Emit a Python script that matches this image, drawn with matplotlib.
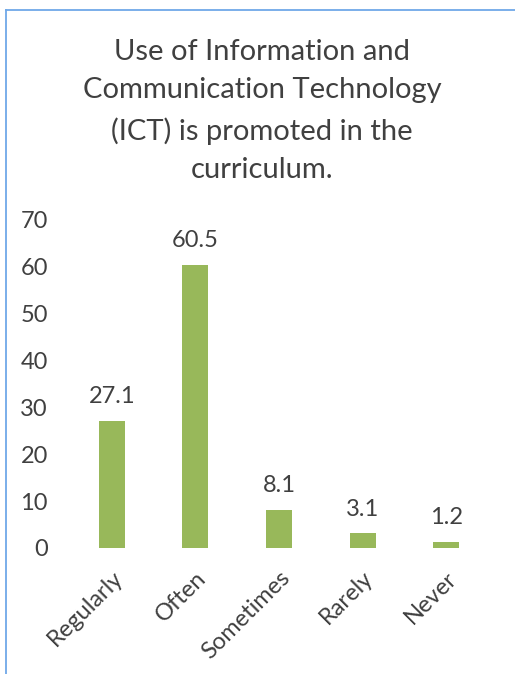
import matplotlib.pyplot as plt
from matplotlib.lines import Line2D

categories = ["Regularly", "Often", "Sometimes", "Rarely", "Never"]
values = [27.1, 60.5, 8.1, 3.1, 1.2]
yticks = [0, 10, 20, 30, 40, 50, 60, 70]
title = "Use of Information and\nCommunication Technology\n(ICT) is promoted in the\ncurriculum."

plt.rcParams["font.family"] = ["Lato", "DejaVu Sans"]
TXT = "#404040"
W, H = 515, 674

fig = plt.figure(figsize=(W / 100, H / 100), dpi=100)
# 轴区域按像素定位: x 70..488, y 220(70)..548(0)
ax = fig.add_axes([70 / W, 1 - 548 / H, (488 - 70) / W, (548 - 220) / H])

x = range(len(categories))
ax.bar(x, values, width=0.31, color="#98b85a")
for i, v in enumerate(values):
    ax.annotate(f"{v}", (i, v), xytext=(0, 10), textcoords="offset points",
                ha="center", va="bottom", fontsize=17, color=TXT)

ax.set_xlim(-0.5, len(categories) - 0.5)
ax.set_ylim(0, 70)
ax.set_yticks(yticks)
ax.set_xticks(list(x))
ax.set_xticklabels(categories, rotation=45, ha="right", rotation_mode="anchor",
                   fontsize=17, color=TXT)
ax.tick_params(axis="y", labelsize=17, labelcolor=TXT, length=0, pad=16)
ax.tick_params(axis="x", length=0, pad=14)
for s in ax.spines.values():
    s.set_visible(False)

fig.text(262 / W, 1 - 111 / H, title, ha="center", va="center",
         fontsize=21, color=TXT, linespacing=1.6)

# 扫描件上的蓝色边框（上、左）
bc = "#6fa8e8"
fig.add_artist(Line2D([6 / W, 1], [1 - 10 / H, 1 - 10 / H], color=bc, lw=1.3,
                      transform=fig.transFigure))
fig.add_artist(Line2D([6 / W, 6 / W], [0, 1 - 10 / H], color=bc, lw=1.3,
                      transform=fig.transFigure))

fig.savefig("out.png", dpi=100)
